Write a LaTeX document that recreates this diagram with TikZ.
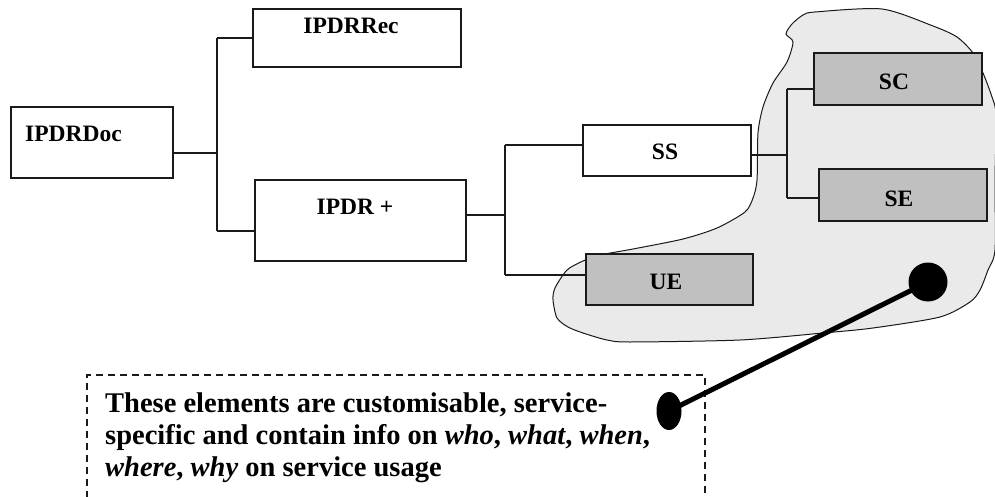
\documentclass[tikz,border=0pt]{standalone}
\usepackage{fontspec}
\setmainfont{Liberation Serif}
\usetikzlibrary{shapes.geometric}
\definecolor{boxgray}{HTML}{C0C0C0}
\definecolor{blobgray}{HTML}{EAEAEA}
\definecolor{ink}{HTML}{1A1A1A}
\begin{document}
\begin{tikzpicture}[x=1pt,y=-1pt,
  box/.style={draw=ink,line width=1.3pt,rectangle,inner sep=0pt},
  lbl/.style={font=\bfseries\fontsize{23.5}{28}\selectfont,inner sep=0pt,anchor=base},
  conn/.style={draw=ink,line width=1.2pt},
  shade/.style={fill=boxgray}]
\useasboundingbox (0,0) rectangle (995,497);
% blob
\draw[fill=blobgray,draw=ink,line width=1pt] plot[smooth cycle,tension=0.45] coordinates {
 (792,24) (803,15) (815,12) (882,9) (933,26) (957,37) (973,53) (983,73) (992,97) (996,115)
 (995,180) (995,250) (988,270) (980,290) (970,302) (940,317) (873,328) (823,333) (740,340)
 (630,342) (607,340) (583,333) (568,327) (557,318) (553,300) (555,288) (567,270) (583,261)
 (600,255) (633,249) (683,239) (717,228) (745,212) (753,198) (757,180) (758,133) (763,107)
 (773,83) (787,62) (793,42) (786,34)};
% boxes
\node[box,minimum width=162pt,minimum height=71pt] (doc) at (92,142.5) {};
\node[box,minimum width=208pt,minimum height=58pt] (rec) at (357,38) {};
\node[box,minimum width=211pt,minimum height=81pt] (plus) at (360.5,220.5) {};
\node[box,fill=white,minimum width=168pt,minimum height=51pt] (ss) at (667,150.5) {};
\node[box,shade,minimum width=168pt,minimum height=52pt] (sc) at (898,79) {};
\node[box,shade,minimum width=168pt,minimum height=52pt] (se) at (903,195) {};
\node[box,shade,minimum width=167pt,minimum height=51pt] (ue) at (669.5,279.5) {};
% labels
\node[lbl,anchor=base west] (tdoc) at (25,142) {IPDRDoc};
\node[lbl] (trec) at (351,34) {IPDRRec};
\node[lbl] (tplus) at (355,214) {IPDR +};
\node[lbl] (tss) at (665,160) {SS};
\node[lbl] (tsc) at (894,90) {SC};
\node[lbl] (tse) at (899,206) {SE};
\node[lbl] (tue) at (666,289) {UE};
% tree junctions
\coordinate (j1) at (217,153);
\coordinate (j1t) at (217,38);
\coordinate (j1b) at (217,231);
\coordinate (j2) at (505,215);
\coordinate (j2t) at (505,145);
\coordinate (j2b) at (505,275);
\coordinate (j3) at (787,155);
\coordinate (j3t) at (787,89);
\coordinate (j3b) at (787,198);
\draw[conn] (doc.east |- j1) -- (j1);
\draw[conn] (j1t) -- (j1b);
\draw[conn] (j1t) -- (rec.west |- j1t);
\draw[conn] (j1b) -- (plus.west |- j1b);
\draw[conn] (plus.east |- j2) -- (j2);
\draw[conn] (j2t) -- (j2b);
\draw[conn] (j2t) -- (ss.west |- j2t);
\draw[conn] (j2b) -- (ue.west |- j2b);
\draw[conn] (ss.east |- j3) -- (j3);
\draw[conn] (j3t) -- (j3b);
\draw[conn] (j3t) -- (sc.west |- j3t);
\draw[conn] (j3b) -- (se.west |- j3b);
% callout
\node[draw=ink,line width=1.3pt,dash pattern=on 7pt off 5pt,rectangle,inner sep=0pt,
  minimum width=618pt,minimum height=124pt] (callout) at (396,437) {};
\node[inner sep=0pt,anchor=base west,font=\bfseries\fontsize{28.5}{32}\selectfont] (ctext) at (105,412)
 {\parbox[t]{560pt}{\raggedright These elements are customisable, service-\\
 specific and contain info on \textit{who}, \textit{what}, \textit{when},\\
 \textit{where}, \textit{why} on service usage}};
\node[circle,fill=black,inner sep=0pt,minimum size=39pt] (bigdot) at (928,282) {};
\node[ellipse,fill=black,inner sep=0pt,minimum width=25pt,minimum height=38pt] (smalldot) at (669,411) {};
\draw[line width=5pt,black] (bigdot.center) -- (smalldot.center);
\end{tikzpicture}
\end{document}
